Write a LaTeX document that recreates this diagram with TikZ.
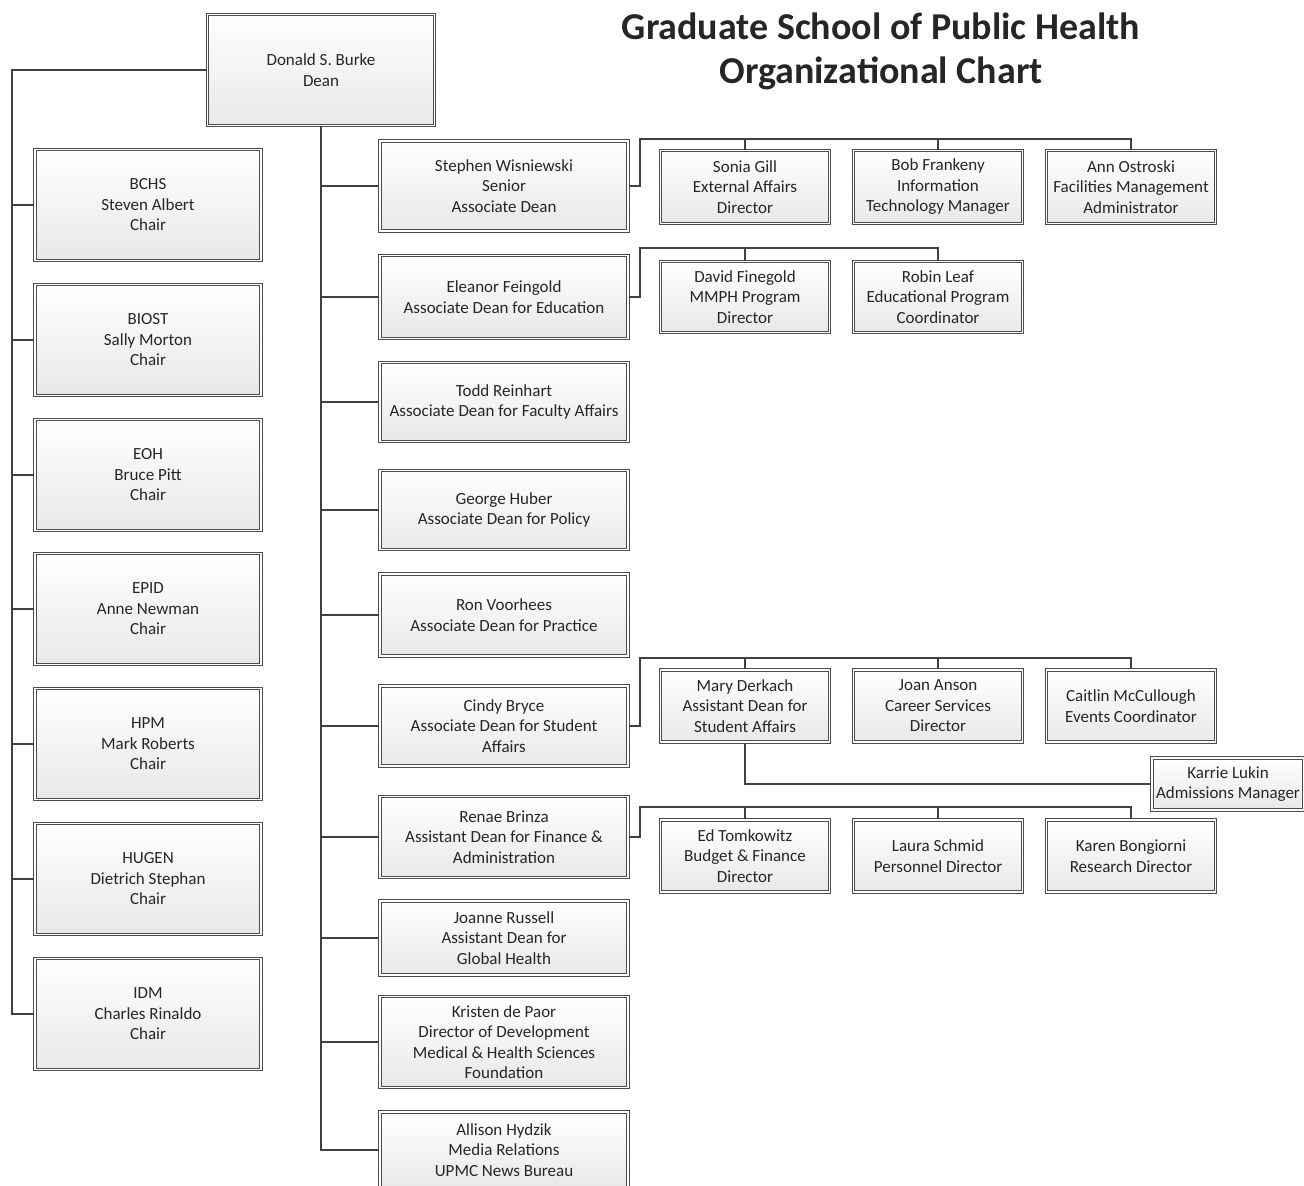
\documentclass[tikz,border=0pt]{standalone}
\usepackage{fontspec}
\setmainfont{Carlito}
\usetikzlibrary{shadows}

\begin{document}
\begin{tikzpicture}[x=1pt,y=-1pt,
		orgbox/.style={draw=black!70, double=white, double distance=1.4pt, line width=1.1pt,
			top color=white, bottom color=black!9,
			drop shadow={shadow xshift=1.5pt, shadow yshift=-1.5pt, fill=black!35, opacity=0.6},
			align=center, text=black!85, font=\fontsize{17}{20.5}\selectfont, inner sep=0pt},
		deptbox/.style={orgbox, minimum width=226pt, minimum height=111pt},
		assocbox/.style={orgbox, minimum width=248pt, minimum height=#1},
		staffbox/.style={orgbox, minimum width=169pt, minimum height=#1},
		link/.style={draw=black!75, line width=1.2pt}]
				\useasboundingbox (0,0) rectangle (1304,1186);

				\node[font=\fontsize{38}{44}\selectfont\bfseries, text=black!85, align=center] (title) at (881,51) {Graduate School of Public Health\\Organizational Chart};

				\node[orgbox, minimum width=227pt, minimum height=111pt] (dean) at (321,70) {Donald S. Burke\\Dean};

				\node[deptbox] (bchs) at (148,205) {BCHS\\Steven Albert\\Chair};
				\node[deptbox] (biost) at (148,340) {BIOST\\Sally Morton\\Chair};
				\node[deptbox] (eoh) at (148,475) {EOH\\Bruce Pitt\\Chair};
				\node[deptbox] (epid) at (148,609) {EPID\\Anne Newman\\Chair};
				\node[deptbox] (hpm) at (148,744) {HPM\\Mark Roberts\\Chair};
				\node[deptbox] (hugen) at (148,879) {HUGEN\\Dietrich Stephan\\Chair};
				\node[deptbox] (idm) at (148,1014) {IDM\\Charles Rinaldo\\Chair};

				\node[assocbox=90pt] (wisn) at (504,186) {Stephen Wisniewski\\Senior\\Associate Dean};
				\node[assocbox=83pt] (feing) at (504,297) {Eleanor Feingold\\Associate Dean for Education};
				\node[assocbox=79pt] (reinh) at (504,402) {Todd Reinhart\\Associate Dean for Faculty Affairs};
				\node[assocbox=79pt] (huber) at (504,510) {George Huber\\Associate Dean for Policy};
				\node[assocbox=82pt] (voor) at (504,615) {Ron Voorhees\\Associate Dean for Practice};
				\node[assocbox=80pt] (bryce) at (504,726) {Cindy Bryce\\Associate Dean for Student\\Affairs};
				\node[assocbox=81pt] (brinza) at (504,837) {Renae Brinza\\Assistant Dean for Finance \&\\Administration};
				\node[assocbox=74pt] (russell) at (504,938) {Joanne Russell\\Assistant Dean for\\Global Health};
				\node[assocbox=91pt] (depaor) at (504,1042) {Kristen de Paor\\Director of Development\\Medical \& Health Sciences\\Foundation};
				\node[assocbox=76pt] (hydzik) at (504,1150) {Allison Hydzik\\Media Relations\\UPMC News Bureau};

				\node[staffbox=73pt] (gill) at (745,187) {Sonia Gill\\External Affairs\\Director};
				\node[staffbox=73pt] (frank) at (938,187) {Bob Frankeny\\Information\\Technology Manager};
				\node[staffbox=73pt] (ostr) at (1131,187) {Ann Ostroski\\Facilities Management\\Administrator};
				\node[staffbox=71pt] (fine) at (745,297) {David Finegold\\MMPH Program\\Director};
				\node[staffbox=71pt] (leaf) at (938,297) {Robin Leaf\\Educational Program\\Coordinator};
				\node[staffbox=72pt] (derk) at (745,706) {Mary Derkach\\Assistant Dean for\\Student Affairs};
				\node[staffbox=72pt] (anson) at (938,706) {Joan Anson\\Career Services\\Director};
				\node[staffbox=72pt] (mccul) at (1131,706) {Caitlin McCullough\\Events Coordinator};
				\node[orgbox, minimum width=152pt, minimum height=52pt] (lukin) at (1228,784) {Karrie Lukin\\Admissions Manager};
				\node[staffbox=72pt] (tomk) at (745,856) {Ed Tomkowitz\\Budget \& Finance\\Director};
				\node[staffbox=72pt] (schmid) at (938,856) {Laura Schmid\\Personnel Director};
				\node[staffbox=72pt] (bong) at (1131,856) {Karen Bongiorni\\Research Director};

				\coordinate (ltrunk) at (12,70);
				\draw[link] (dean.west) -- (ltrunk) |- (idm.west);
				\foreach \n in {bchs,biost,eoh,epid,hpm,hugen}
					\draw[link] (ltrunk |- \n.west) -- (\n.west);

				\draw[link] (dean.south) |- (hydzik.west);
				\foreach \n in {wisn,feing,reinh,huber,voor,bryce,brinza,russell,depaor}
					\draw[link] (dean.south |- \n.west) -- (\n.west);

				\coordinate (bus1) at (640,139);
				\draw[link] (wisn.east) -| (bus1) -| (ostr.north);
				\draw[link] (bus1 -| gill.north) -- (gill.north);
				\draw[link] (bus1 -| frank.north) -- (frank.north);

				\coordinate (bus2) at (640,248);
				\draw[link] (feing.east) -| (bus2) -| (leaf.north);
				\draw[link] (bus2 -| fine.north) -- (fine.north);

				\coordinate (bus3) at (640,658);
				\draw[link] (bryce.east) -| (bus3) -| (mccul.north);
				\draw[link] (bus3 -| derk.north) -- (derk.north);
				\draw[link] (bus3 -| anson.north) -- (anson.north);
				\draw[link] (derk.south) |- (lukin.west);

				\coordinate (bus4) at (640,807);
				\draw[link] (brinza.east) -| (bus4) -| (bong.north);
				\draw[link] (bus4 -| tomk.north) -- (tomk.north);
				\draw[link] (bus4 -| schmid.north) -- (schmid.north);
			\end{tikzpicture}
\end{document}
